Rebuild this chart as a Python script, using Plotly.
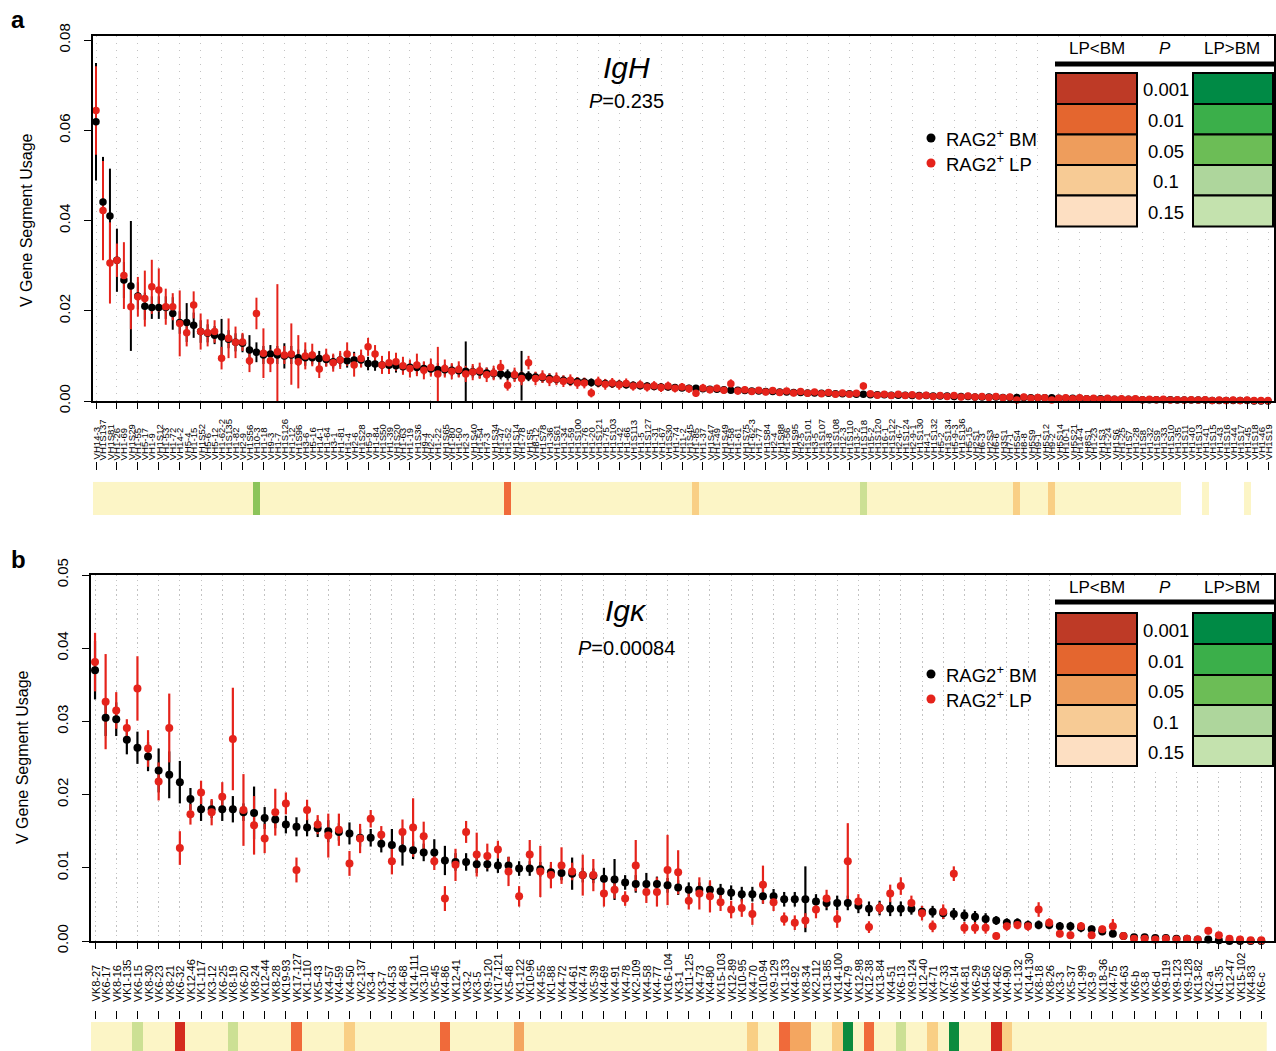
import plotly.graph_objects as go

FONT = "Liberation Sans, Arial, Helvetica, sans-serif"
W, H = 1276, 1051
BLACK = "#000000"
RED = "#E5231B"


def fx(px):
    return px / W


def fy(py):
    return 1 - py / H


# ---------------- IgH (panel a) ----------------
igh_genes = [
    "VH14-3", "VH1S137", "VH1S81", "VH1-26", "VH1-69", "VH1S29", "VH1-55", "VH5-17", "VH1-9", "VH1S12",
    "VH1-53", "VH1-72", "VH14-2", "VH5-4", "VH1-15", "VH1S52", "VH5-6", "VH5-12", "VH1-62-2", "VH1S135",
    "VH1-82", "VH2-9", "VH1S56", "VH10-3", "VH1-18", "VH9-3", "VH1-7", "VH1S126", "VH1-12", "VH1S96",
    "VH3-6", "VH5-16", "VH14-1", "VH1-64", "VH3-1", "VH1-81", "VH1-4", "VH2-6", "VH1S28", "VH5-9",
    "VH1-84", "VH1S50", "VH1-39", "VH1S20", "VH1-63", "VH1-19", "VH1S36", "VH9-4", "VH2-2", "VH1-22",
    "VH1S65", "VH1-80", "VH1-50", "VH2-3", "VH1S40", "VH1-54", "VH7-3", "VH1S34", "VH1-47", "VH1-52",
    "VH1S14", "VH1-78", "VH1S5", "VH8-12", "VH1S78", "VH1-36", "VH1S61", "VH1-34", "VH1-59", "VH1S100",
    "VH1-76", "VH1-20", "VH1S121", "VH1-75", "VH1S103", "VH1-42", "VH1-66", "VH1S113", "VH1-5", "VH1S127",
    "VH1-31", "VH1-67", "VH1S30", "VH1-74", "VH11-2", "VH1S45", "VH1-85", "VH1-37", "VH1S47", "VH1-49",
    "VH1S49", "VH1-58", "VH1-61", "VH1S75", "VH1-62-3", "VH1-77", "VH1S84", "VH2-4", "VH1S88", "VH1-56",
    "VH1S95", "VH2-5", "VH1S101", "VH3-5", "VH1S107", "VH3-8", "VH1S108", "VH12-3", "VH1S110", "VH13-2",
    "VH1S118", "VH15-2", "VH1S120", "VH16-1", "VH1S122", "VH2-6-7", "VH1S124", "VH2-9-1", "VH1S130", "VH4-1",
    "VH1S132", "VH5-2", "VH1S134", "VH5-9-3", "VH1S136", "VH5-15", "VH2S1", "VH6-3", "VH2S3", "VH6-6",
    "VH3S1", "VH7-1", "VH5S4", "VH8-8", "VH5S9", "VH9-1", "VH5S12", "VH9-2", "VH5S14", "VH10-1",
    "VH5S21", "VH14-4", "VH8S1", "VH1-23", "VH1S3", "VH1-24", "VH1S6", "VH1-25", "VH1S7", "VH1-28",
    "VH1S8", "VH1-32", "VH1S9", "VH1-33", "VH1S10", "VH1-35", "VH1S11", "VH1-40", "VH1S13", "VH1-41",
    "VH1S15", "VH1-43", "VH1S16", "VH1-44", "VH1S17", "VH1-45", "VH1S18", "VH1-46", "VH1S19",
]

igh_bm = [
    0.0619, 0.0441, 0.0410, 0.0312, 0.0268, 0.0255, 0.0233, 0.0210, 0.0207, 0.0207,
    0.0207, 0.0194, 0.0174, 0.0174, 0.0168, 0.0154, 0.0150, 0.0146, 0.0142, 0.0137,
    0.0130, 0.0128, 0.0113, 0.0108, 0.0102, 0.0104, 0.0102, 0.0100, 0.0102, 0.0096,
    0.0096, 0.0096, 0.0094, 0.0092, 0.0087, 0.0091, 0.0089, 0.0091, 0.0091, 0.0083,
    0.0082, 0.0080, 0.0079, 0.0078, 0.0076, 0.0075, 0.0074, 0.0072, 0.0071, 0.0070,
    0.0069, 0.0068, 0.0067, 0.0066, 0.0065, 0.0064, 0.0062, 0.0061, 0.0060, 0.0058,
    0.0057, 0.0056, 0.0055, 0.0053, 0.0052, 0.0050, 0.0048, 0.0046, 0.0044, 0.0043,
    0.0042, 0.0041, 0.0040, 0.0039, 0.0038, 0.0037, 0.0036, 0.0035, 0.0034, 0.0033,
    0.0032, 0.0031, 0.0031, 0.0030, 0.0029, 0.0028, 0.0028, 0.0027, 0.0026, 0.0026,
    0.0025, 0.0024, 0.0024, 0.0023, 0.0022, 0.0022, 0.0021, 0.0021, 0.0020, 0.0020,
    0.0019, 0.0019, 0.0018, 0.0018, 0.0017, 0.0017, 0.0016, 0.0016, 0.0016, 0.0015,
    0.0015, 0.0014, 0.0014, 0.0014, 0.0013, 0.0013, 0.0013, 0.0012, 0.0012, 0.0012,
    0.0011, 0.0011, 0.0011, 0.0010, 0.0010, 0.0010, 0.0009, 0.0009, 0.0009, 0.0009,
    0.0008, 0.0008, 0.0008, 0.0008, 0.0007, 0.0007, 0.0007, 0.0007, 0.0006, 0.0006,
    0.0006, 0.0006, 0.0005, 0.0005, 0.0005, 0.0005, 0.0004, 0.0004, 0.0004, 0.0004,
    0.0003, 0.0003, 0.0003, 0.0003, 0.0003, 0.0002, 0.0002, 0.0002, 0.0002, 0.0002,
    0.0001, 0.0001, 0.0001, 0.0001, 0.0001, 0.0001, 0.0000, 0.0000, 0.0000,
]

igh_bm_err = [
    0.0130, 0.0100, 0.0105, 0.0070, 0.0040, 0.0144, 0.0030, 0.0030, 0.0025, 0.0025,
    0.0025, 0.0036, 0.0025, 0.0043, 0.0028, 0.0025, 0.0020, 0.0020, 0.0040, 0.0020,
    0.0020, 0.0020, 0.0033, 0.0022, 0.0020, 0.0020, 0.0020, 0.0028, 0.0020, 0.0018,
    0.0018, 0.0015, 0.0017, 0.0015, 0.0015, 0.0015, 0.0015, 0.0018, 0.0015, 0.0015,
    0.0015, 0.0015, 0.0015, 0.0015, 0.0015, 0.0014, 0.0014, 0.0014, 0.0014, 0.0014,
    0.0013, 0.0013, 0.0013, 0.0066, 0.0013, 0.0013, 0.0012, 0.0012, 0.0012, 0.0012,
    0.0012, 0.0055, 0.0011, 0.0011, 0.0011, 0.0011, 0.0010, 0.0010, 0.0010, 0.0010,
    0.0009, 0.0009, 0.0009, 0.0009, 0.0009, 0.0008, 0.0008, 0.0008, 0.0008, 0.0008,
    0.0008, 0.0008, 0.0007, 0.0007, 0.0007, 0.0007, 0.0007, 0.0007, 0.0007, 0.0006,
    0.0006, 0.0006, 0.0006, 0.0006, 0.0006, 0.0006, 0.0006, 0.0005, 0.0005, 0.0005,
    0.0005, 0.0005, 0.0005, 0.0005, 0.0005, 0.0005, 0.0004, 0.0004, 0.0004, 0.0004,
    0.0004, 0.0004, 0.0004, 0.0004, 0.0004, 0.0004, 0.0003, 0.0003, 0.0003, 0.0003,
    0.0003, 0.0003, 0.0003, 0.0003, 0.0003, 0.0003, 0.0003, 0.0003, 0.0003, 0.0003,
    0.0003, 0.0002, 0.0002, 0.0002, 0.0002, 0.0002, 0.0002, 0.0002, 0.0002, 0.0002,
    0.0002, 0.0002, 0.0002, 0.0002, 0.0002, 0.0002, 0.0002, 0.0002, 0.0002, 0.0002,
    0.0002, 0.0002, 0.0001, 0.0001, 0.0001, 0.0001, 0.0001, 0.0001, 0.0001, 0.0001,
    0.0001, 0.0001, 0.0001, 0.0001, 0.0001, 0.0001, 0.0001, 0.0000, 0.0000,
]

igh_lp = [
    0.0644, 0.0422, 0.0306, 0.0312, 0.0278, 0.0209, 0.0231, 0.0227, 0.0253, 0.0246,
    0.0209, 0.0209, 0.0172, 0.0151, 0.0213, 0.0154, 0.0151, 0.0154, 0.0095, 0.0139,
    0.0130, 0.0131, 0.0089, 0.0194, 0.0106, 0.0089, 0.0109, 0.0102, 0.0104, 0.0087,
    0.0100, 0.0102, 0.0071, 0.0096, 0.0085, 0.0091, 0.0104, 0.0080, 0.0094, 0.0120,
    0.0104, 0.0080, 0.0085, 0.0087, 0.0078, 0.0072, 0.0080, 0.0068, 0.0074, 0.0060,
    0.0072, 0.0066, 0.0070, 0.0060, 0.0064, 0.0067, 0.0058, 0.0062, 0.0075, 0.0035,
    0.0058, 0.0050, 0.0085, 0.0050, 0.0054, 0.0047, 0.0049, 0.0044, 0.0046, 0.0040,
    0.0040, 0.0018, 0.0042, 0.0037, 0.0040, 0.0036, 0.0039, 0.0033, 0.0036, 0.0031,
    0.0034, 0.0030, 0.0033, 0.0028, 0.0031, 0.0027, 0.0017, 0.0029, 0.0025, 0.0028,
    0.0024, 0.0038, 0.0022, 0.0025, 0.0021, 0.0024, 0.0020, 0.0023, 0.0019, 0.0022,
    0.0018, 0.0021, 0.0017, 0.0020, 0.0016, 0.0019, 0.0015, 0.0018, 0.0015, 0.0017,
    0.0033, 0.0016, 0.0013, 0.0015, 0.0012, 0.0015, 0.0012, 0.0014, 0.0011, 0.0013,
    0.0010, 0.0012, 0.0010, 0.0012, 0.0009, 0.0011, 0.0009, 0.0010, 0.0008, 0.0010,
    0.0007, 0.0009, 0.0002, 0.0009, 0.0006, 0.0008, 0.0007, 0.0002, 0.0006, 0.0007,
    0.0005, 0.0007, 0.0005, 0.0006, 0.0004, 0.0006, 0.0004, 0.0005, 0.0004, 0.0005,
    0.0003, 0.0004, 0.0003, 0.0004, 0.0002, 0.0003, 0.0002, 0.0003, 0.0002, 0.0003,
    0.0001, 0.0002, 0.0001, 0.0002, 0.0001, 0.0002, 0.0001, 0.0001, 0.0001,
]

igh_lp_err = [
    0.0098, 0.0110, 0.0090, 0.0037, 0.0074, 0.0050, 0.0044, 0.0062, 0.0060, 0.0048,
    0.0040, 0.0030, 0.0073, 0.0030, 0.0030, 0.0040, 0.0030, 0.0025, 0.0025, 0.0044,
    0.0035, 0.0020, 0.0025, 0.0035, 0.0055, 0.0025, 0.0150, 0.0020, 0.0068, 0.0059,
    0.0030, 0.0025, 0.0020, 0.0020, 0.0020, 0.0020, 0.0026, 0.0026, 0.0020, 0.0020,
    0.0020, 0.0020, 0.0025, 0.0020, 0.0020, 0.0020, 0.0025, 0.0020, 0.0020, 0.0060,
    0.0020, 0.0018, 0.0018, 0.0018, 0.0018, 0.0018, 0.0016, 0.0016, 0.0016, 0.0012,
    0.0016, 0.0015, 0.0015, 0.0015, 0.0014, 0.0014, 0.0014, 0.0013, 0.0013, 0.0013,
    0.0012, 0.0010, 0.0012, 0.0012, 0.0011, 0.0011, 0.0011, 0.0010, 0.0010, 0.0010,
    0.0010, 0.0010, 0.0010, 0.0009, 0.0009, 0.0009, 0.0008, 0.0009, 0.0008, 0.0008,
    0.0008, 0.0010, 0.0008, 0.0008, 0.0007, 0.0007, 0.0007, 0.0007, 0.0007, 0.0007,
    0.0006, 0.0006, 0.0006, 0.0006, 0.0006, 0.0006, 0.0005, 0.0005, 0.0005, 0.0005,
    0.0008, 0.0005, 0.0005, 0.0005, 0.0005, 0.0005, 0.0004, 0.0004, 0.0004, 0.0004,
    0.0004, 0.0004, 0.0004, 0.0004, 0.0004, 0.0004, 0.0003, 0.0003, 0.0003, 0.0003,
    0.0003, 0.0003, 0.0002, 0.0003, 0.0003, 0.0003, 0.0003, 0.0002, 0.0003, 0.0003,
    0.0002, 0.0002, 0.0002, 0.0002, 0.0002, 0.0002, 0.0002, 0.0002, 0.0002, 0.0002,
    0.0002, 0.0002, 0.0002, 0.0002, 0.0001, 0.0001, 0.0001, 0.0001, 0.0001, 0.0001,
    0.0001, 0.0001, 0.0001, 0.0001, 0.0001, 0.0001, 0.0001, 0.0001, 0.0001,
]

# significance level per gene: negative = LP<BM, positive = LP>BM
# (1: P<0.15, 2: P<0.1, 3: P<0.05, 4: P<0.01, 5: P<0.001); untested genes have no cell
igh_signif = {"VH10-3": 3, "VH1-52": -4, "VH1-85": -2, "VH1S118": 1, "VH5S4": -2, "VH9-2": -2}
igh_untested = ["VH1S11", "VH1-40", "VH1S13", "VH1S15", "VH1-43", "VH1S16", "VH1-44",
                "VH1S17", "VH1S18", "VH1-46", "VH1S19"]
igh_yticks = [0.00, 0.02, 0.04, 0.06, 0.08]

# ---------------- Igk (panel b) ----------------
igk_genes = [
    "VK8-27", "VK6-17", "VK8-16", "VK1-135", "VK6-15", "VK8-30", "VK6-23", "VK8-21", "VK6-32", "VK12-46",
    "VK1-117", "VK3-12", "VK6-25", "VK8-19", "VK6-20", "VK8-24", "VK12-44", "VK8-28", "VK19-93", "VK17-127",
    "VK1-110", "VK5-43", "VK4-57", "VK4-59", "VK4-50", "VK2-137", "VK3-4", "VK3-7", "VK4-53", "VK4-68",
    "VK14-111", "VK3-10", "VK5-45", "VK4-86", "VK12-41", "VK3-2", "VK3-5", "VK9-120", "VK17-121", "VK5-48",
    "VK1-122", "VK10-96", "VK4-55", "VK1-88", "VK4-72", "VK4-61", "VK4-74", "VK5-39", "VK4-69", "VK4-91",
    "VK4-78", "VK2-109", "VK4-58", "VK4-77", "VK16-104", "VK3-1", "VK11-125", "VK4-73", "VK4-80", "VK15-103",
    "VK12-89", "VK10-95", "VK4-70", "VK10-94", "VK9-129", "VK1-133", "VK4-92", "VK8-34", "VK2-112", "VK13-85",
    "VK14-100", "VK4-79", "VK12-98", "VK12-38", "VK13-84", "VK4-51", "VK6-13", "VK9-124", "VK12-40", "VK4-71",
    "VK7-33", "VK6-14", "VK4-81", "VK6-29", "VK4-56", "VK4-62", "VK4-90", "VK1-132", "VK14-130", "VK8-18",
    "VK8-26", "VK3-3", "VK5-37", "VK1-99", "VK3-9", "VK18-36", "VK4-75", "VK4-63", "VK6-b", "VK3-8",
    "VK6-d", "VK9-119", "VK9-123", "VK9-128", "VK13-82", "VK2-a", "VK1-35", "VK12-47", "VK15-102", "VK4-83",
    "VK6-c",
]

igk_bm = [
    0.0370, 0.0305, 0.0303, 0.0275, 0.0264, 0.0252, 0.0233, 0.0227, 0.0217, 0.0194,
    0.0180, 0.0180, 0.0180, 0.0180, 0.0176, 0.0175, 0.0168, 0.0166, 0.0159, 0.0156,
    0.0155, 0.0154, 0.0150, 0.0149, 0.0147, 0.0141, 0.0141, 0.0133, 0.0131, 0.0126,
    0.0124, 0.0121, 0.0121, 0.0110, 0.0108, 0.0108, 0.0105, 0.0105, 0.0103, 0.0103,
    0.0099, 0.0099, 0.0098, 0.0094, 0.0093, 0.0092, 0.0090, 0.0089, 0.0085, 0.0084,
    0.0080, 0.0078, 0.0078, 0.0078, 0.0076, 0.0073, 0.0070, 0.0070, 0.0070, 0.0068,
    0.0066, 0.0064, 0.0064, 0.0061, 0.0061, 0.0057, 0.0057, 0.0057, 0.0054, 0.0052,
    0.0052, 0.0052, 0.0048, 0.0044, 0.0045, 0.0044, 0.0044, 0.0044, 0.0040, 0.0040,
    0.0038, 0.0037, 0.0035, 0.0033, 0.0030, 0.0028, 0.0025, 0.0025, 0.0022, 0.0022,
    0.0022, 0.0020, 0.0020, 0.0018, 0.0016, 0.0013, 0.0010, 0.0007, 0.0005, 0.0005,
    0.0004, 0.0004, 0.0003, 0.0003, 0.0002, 0.0002, 0.0001, 0.0000, 0.0000, 0.0000,
    0.0000,
]

igk_bm_err = [
    0.0040, 0.0025, 0.0023, 0.0020, 0.0022, 0.0020, 0.0030, 0.0032, 0.0029, 0.0015,
    0.0016, 0.0012, 0.0016, 0.0018, 0.0012, 0.0036, 0.0015, 0.0012, 0.0012, 0.0013,
    0.0012, 0.0012, 0.0015, 0.0012, 0.0015, 0.0012, 0.0012, 0.0012, 0.0022, 0.0023,
    0.0012, 0.0012, 0.0018, 0.0020, 0.0012, 0.0012, 0.0012, 0.0010, 0.0010, 0.0012,
    0.0010, 0.0010, 0.0010, 0.0010, 0.0010, 0.0022, 0.0010, 0.0010, 0.0015, 0.0028,
    0.0010, 0.0012, 0.0015, 0.0010, 0.0010, 0.0010, 0.0010, 0.0010, 0.0010, 0.0010,
    0.0010, 0.0010, 0.0010, 0.0010, 0.0010, 0.0010, 0.0010, 0.0045, 0.0010, 0.0010,
    0.0010, 0.0010, 0.0010, 0.0010, 0.0010, 0.0010, 0.0010, 0.0008, 0.0008, 0.0008,
    0.0008, 0.0008, 0.0008, 0.0008, 0.0008, 0.0006, 0.0006, 0.0006, 0.0006, 0.0006,
    0.0006, 0.0006, 0.0006, 0.0006, 0.0005, 0.0005, 0.0004, 0.0003, 0.0002, 0.0002,
    0.0002, 0.0002, 0.0002, 0.0002, 0.0001, 0.0001, 0.0001, 0.0001, 0.0000, 0.0000,
    0.0000,
]

igk_lp = [
    0.0381, 0.0327, 0.0315, 0.0291, 0.0345, 0.0263, 0.0218, 0.0291, 0.0127, 0.0173,
    0.0203, 0.0176, 0.0197, 0.0276, 0.0179, 0.0158, 0.0140, 0.0176, 0.0188, 0.0097,
    0.0179, 0.0159, 0.0144, 0.0152, 0.0106, 0.0140, 0.0167, 0.0145, 0.0109, 0.0149,
    0.0155, 0.0143, 0.0109, 0.0058, 0.0104, 0.0149, 0.0118, 0.0116, 0.0125, 0.0095,
    0.0061, 0.0118, 0.0095, 0.0090, 0.0103, 0.0095, 0.0090, 0.0090, 0.0065, 0.0070,
    0.0058, 0.0103, 0.0067, 0.0067, 0.0097, 0.0094, 0.0055, 0.0065, 0.0061, 0.0053,
    0.0043, 0.0045, 0.0037, 0.0077, 0.0053, 0.0030, 0.0025, 0.0028, 0.0043, 0.0058,
    0.0030, 0.0109, 0.0054, 0.0019, 0.0045, 0.0065, 0.0075, 0.0052, 0.0038, 0.0020,
    0.0040, 0.0092, 0.0018, 0.0018, 0.0018, 0.0007, 0.0020, 0.0022, 0.0020, 0.0043,
    0.0025, 0.0010, 0.0008, 0.0020, 0.0008, 0.0016, 0.0020, 0.0007, 0.0003, 0.0003,
    0.0002, 0.0003, 0.0002, 0.0003, 0.0002, 0.0014, 0.0008, 0.0003, 0.0002, 0.0001,
    0.0001,
]

igk_lp_err = [
    0.0040, 0.0065, 0.0025, 0.0012, 0.0044, 0.0025, 0.0026, 0.0047, 0.0023, 0.0014,
    0.0016, 0.0018, 0.0020, 0.0070, 0.0049, 0.0040, 0.0020, 0.0032, 0.0015, 0.0017,
    0.0014, 0.0013, 0.0030, 0.0022, 0.0017, 0.0020, 0.0012, 0.0012, 0.0018, 0.0017,
    0.0040, 0.0020, 0.0012, 0.0017, 0.0022, 0.0015, 0.0030, 0.0017, 0.0012, 0.0020,
    0.0014, 0.0020, 0.0035, 0.0018, 0.0025, 0.0012, 0.0028, 0.0022, 0.0018, 0.0012,
    0.0010, 0.0035, 0.0015, 0.0020, 0.0048, 0.0030, 0.0012, 0.0022, 0.0022, 0.0012,
    0.0012, 0.0012, 0.0015, 0.0026, 0.0012, 0.0009, 0.0010, 0.0010, 0.0012, 0.0012,
    0.0012, 0.0052, 0.0010, 0.0008, 0.0008, 0.0012, 0.0012, 0.0010, 0.0010, 0.0008,
    0.0010, 0.0010, 0.0008, 0.0008, 0.0008, 0.0005, 0.0006, 0.0006, 0.0006, 0.0010,
    0.0006, 0.0005, 0.0005, 0.0006, 0.0005, 0.0005, 0.0010, 0.0004, 0.0002, 0.0002,
    0.0002, 0.0002, 0.0002, 0.0002, 0.0002, 0.0005, 0.0004, 0.0002, 0.0002, 0.0001,
    0.0001,
]

igk_signif = {
    "VK6-15": 1, "VK6-32": -5, "VK8-19": 1, "VK17-127": -4, "VK4-50": -2, "VK4-86": -4,
    "VK1-122": -3, "VK4-70": -2, "VK1-133": -4, "VK4-92": -3, "VK8-34": -3, "VK14-100": -2,
    "VK4-79": 5, "VK12-38": -4, "VK6-13": 1, "VK4-71": -2, "VK6-14": 5, "VK4-62": -5, "VK4-90": -2,
}
igk_untested = []
igk_yticks = [0.00, 0.01, 0.02, 0.03, 0.04, 0.05]

# colours of the significance strip (index 0..10 = level -5..+5)
strip_colors = ["#D42B1E", "#F06A3A", "#F4A660", "#F9CF85", "#FCE2B3", "#FCF5C6",
                "#CCE094", "#B5D88A", "#8CC45A", "#3AAE4C", "#0C8B3E"]
# colours of the legend table
legend_p = ["0.001", "0.01", "0.05", "0.1", "0.15"]
legend_low = ["#BE3A26", "#E4662F", "#EE9D5C", "#F7CB95", "#FDDFC2"]
legend_high = ["#008A45", "#3BAF4A", "#6CBD56", "#AED69C", "#C4E2AE"]


def strip_scale():
    n = len(strip_colors)
    scale = []
    for k, c in enumerate(strip_colors):
        scale.append([k / n, c])
        scale.append([(k + 1) / n, c])
    return scale


def strip_row(genes, signif, untested):
    return [None if g in untested else signif.get(g, 0) for g in genes]


fig = go.Figure()


def add_panel(genes, bm, bm_err, lp, lp_err, xa, ya, msize, ethick):
    # error bars first so that all dots sit above them
    for vals, errs, col in ((bm, bm_err, BLACK), (lp, lp_err, RED)):
        fig.add_trace(go.Scatter(
            x=genes, y=vals, mode="markers", xaxis=xa, yaxis=ya,
            marker=dict(size=msize, color=col, opacity=0),
            error_y=dict(type="data", symmetric=False, array=errs,
                         arrayminus=[min(e, v) for e, v in zip(errs, vals)],
                         visible=True, color=col, thickness=ethick, width=0),
            showlegend=False, hoverinfo="skip", cliponaxis=False))
    for vals, col, nm in ((bm, BLACK, "RAG2+ BM"), (lp, RED, "RAG2+ LP")):
        fig.add_trace(go.Scatter(
            x=genes, y=vals, mode="markers", xaxis=xa, yaxis=ya, name=nm,
            marker=dict(size=msize, color=col, line=dict(width=0)),
            showlegend=False, cliponaxis=False))


add_panel(igh_genes, igh_bm, igh_bm_err, igh_lp, igh_lp_err, "x", "y", 7.5, 2)
add_panel(igk_genes, igk_bm, igk_bm_err, igk_lp, igk_lp_err, "x3", "y3", 8, 2.2)

n = len(strip_colors)
for genes, sig, unt, xa, ya in ((igh_genes, igh_signif, igh_untested, "x2", "y2"),
                                (igk_genes, igk_signif, igk_untested, "x4", "y4")):
    fig.add_trace(go.Heatmap(
        x=genes, y=[0], z=[strip_row(genes, sig, unt)], xaxis=xa, yaxis=ya,
        zmin=-(n // 2) - 0.5, zmax=(n // 2) + 0.5, colorscale=strip_scale(),
        showscale=False, hoverinfo="skip", xgap=0, ygap=0))

frame = dict(showline=True, linecolor="black", linewidth=1.5, mirror=True,
             ticks="outside", tickcolor="black", zeroline=False, automargin=False)


def cat_axis(genes, left, right, anchor, rng, dash):
    return dict(domain=[fx(left), fx(right)], anchor=anchor, type="category",
                categoryorder="array", categoryarray=genes, range=rng,
                showticklabels=False, ticklen=6, tickwidth=1, showgrid=True,
                gridcolor="#c2c2c2", griddash=dash, gridwidth=1.4, **frame)


def strip_axis(genes, left, right, anchor, rng, ticklen):
    return dict(domain=[fx(left), fx(right)], anchor=anchor, type="category",
                categoryorder="array", categoryarray=genes, range=rng,
                side="top", ticks="outside", ticklen=ticklen, tickwidth=1, tickcolor="black",
                showticklabels=False, showline=False, showgrid=False, zeroline=False,
                automargin=False)


def val_axis(top, bottom, anchor, rng, ticks):
    return dict(domain=[fy(bottom), fy(top)], anchor=anchor, range=rng,
                tickvals=ticks, ticktext=["%.2f" % t for t in ticks], tickangle=-90,
                ticklen=7, tickwidth=1.2, showgrid=False, ticklabelstandoff=8,
                tickfont=dict(size=15, family=FONT, color="black"), **frame)


IGH_RANGE = [-0.43, 168.86]
IGK_RANGE = [-0.38, 111.2]

fig.update_layout(
    template="none",
    width=W, height=H, margin=dict(l=0, r=0, t=0, b=0, pad=0), autosize=False,
    paper_bgcolor="white", plot_bgcolor="white", showlegend=False,
    font=dict(family=FONT, color="black"),
    xaxis=cat_axis(igh_genes, 93, 1274, "y", IGH_RANGE, "1.4px,5.6px"),
    yaxis=val_axis(36, 401, "x", [0, 0.0809], igh_yticks),
    xaxis2=strip_axis(igh_genes, 93, 1274, "y2", IGH_RANGE, 8),
    yaxis2=dict(domain=[fy(515), fy(471)], anchor="x2", range=[-0.5, 0.833], visible=False,
                automargin=False),
    xaxis3=cat_axis(igk_genes, 91, 1274, "y3", IGK_RANGE, "1.4px,3.4px"),
    yaxis3=val_axis(575, 941, "x3", [0, 0.05], igk_yticks),
    xaxis4=strip_axis(igk_genes, 91, 1274, "y4", IGK_RANGE, 8),
    yaxis4=dict(domain=[0, fy(1020)], anchor="x4", range=[-0.5, 0.57], visible=False,
                automargin=False),
)

ann = []
shapes = []


def text(x, y, s, size, **kw):
    d = dict(x=fx(x), y=fy(y), xref="paper", yref="paper", text=s, showarrow=False,
             font=dict(size=size, family=FONT, color="black"))
    d.update(kw)
    ann.append(d)


# gene names, rotated and aligned on their first letter
for genes, xa, base, size in ((igh_genes, "x", 461, 9.6), (igk_genes, "x3", 1003, 11)):
    for g in genes:
        ann.append(dict(x=g, y=fy(base), xref=xa, yref="paper", text=g, textangle=-90,
                        xanchor="center", yanchor="bottom", showarrow=False, borderpad=0,
                        font=dict(size=size, family=FONT, color="black")))


def panel_deco(letter, top, title, pval, ytitle_x, ytitle_y, legend_y, tbl):
    text(18, top - 16, "<b>%s</b>" % letter, 24, xanchor="center", yanchor="middle")
    text(ytitle_x, ytitle_y, "V Gene Segment Usage", 16, textangle=-90,
         xanchor="center", yanchor="middle")
    text(626, title[1], "<i>%s</i>" % title[0], 30, xanchor="center", yanchor="middle")
    text(626, pval[1], "<i>P</i>=%s" % pval[0], 20, xanchor="center", yanchor="middle")
    for (lab, col), ly in zip((("RAG2<sup>+</sup> BM", BLACK), ("RAG2<sup>+</sup> LP", RED)), legend_y):
        shapes.append(dict(type="circle", xref="paper", yref="paper",
                           x0=fx(926.5), x1=fx(935.5), y0=fy(ly + 4.5), y1=fy(ly - 4.5),
                           fillcolor=col, line=dict(width=0)))
        text(944, ly, lab, 18.5, xanchor="left", yanchor="middle")
    # P-value key
    head_y, line_y, edges = tbl
    shapes.append(dict(type="rect", xref="paper", yref="paper", layer="above",
                       x0=fx(1050), x1=fx(1273), y0=fy(edges[-1] + 2), y1=fy(top + 2),
                       fillcolor="white", line=dict(width=0)))
    text(1097, head_y, "LP&lt;BM", 17, xanchor="center", yanchor="middle")
    text(1165, head_y, "<i>P</i>", 17, xanchor="center", yanchor="middle")
    text(1232, head_y, "LP&gt;BM", 17, xanchor="center", yanchor="middle")
    shapes.append(dict(type="line", xref="paper", yref="paper", layer="above",
                       x0=fx(1055), x1=fx(1276), y0=fy(line_y), y1=fy(line_y),
                       line=dict(color="black", width=5)))
    for k, p in enumerate(legend_p):
        y0, y1 = edges[k], edges[k + 1]
        for (xl, xr), col in (((1056, 1137), legend_low[k]), ((1193, 1273), legend_high[k])):
            shapes.append(dict(type="rect", xref="paper", yref="paper", layer="above",
                               x0=fx(xl), x1=fx(xr), y0=fy(y1), y1=fy(y0),
                               fillcolor=col, line=dict(color="black", width=2)))
        text(1166, (y0 + y1) / 2 + 1.5, p, 18.5, xanchor="center", yanchor="middle")


panel_deco("a", 36, ("IgH", 67), ("0.235", 101), 27, 220, (138, 163),
           (48, 64, [73, 104, 134.5, 165, 195.5, 226.5]))
panel_deco("b", 575, ("Igκ", 610), ("0.00084", 648), 22, 757, (674, 699),
           (587, 602, [613, 644, 675, 705, 736, 766]))

fig.update_layout(annotations=ann, shapes=shapes)
fig.write_html("out.html")
